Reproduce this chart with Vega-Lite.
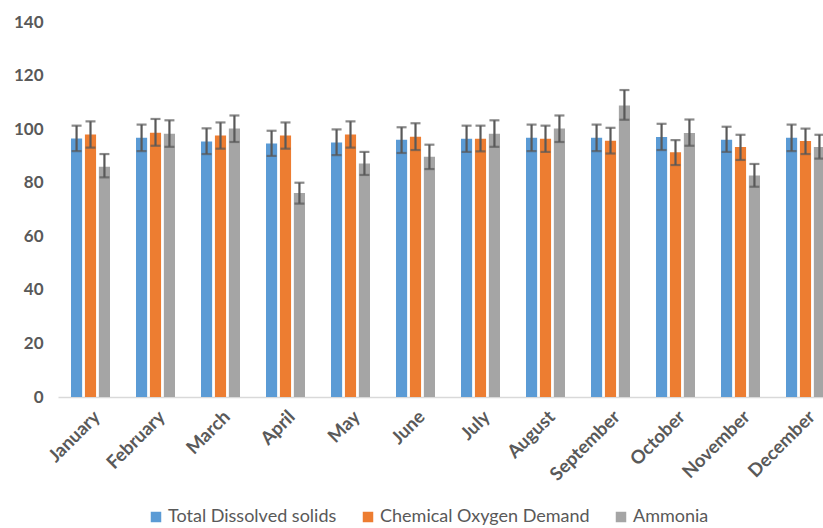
{
  "$schema": "https://vega.github.io/schema/vega-lite/v6.json",
  "width": 765,
  "height": 375,
  "autosize": {"type": "none"},
  "padding": {"left": 58, "top": 22, "right": 0, "bottom": 131},
  "background": "white",
  "config": {
    "view": {"stroke": null},
    "font": "Lato",
    "axis": {"labelFont": "Lato", "labelFontWeight": "bold", "labelColor": "#595959", "grid": false, "ticks": false, "title": null}
  },
  "data": {
    "values": [
      {"month": "January", "series": "Total Dissolved solids", "value": 96.5, "lo": 91.8, "hi": 101.3},
      {"month": "January", "series": "Chemical Oxygen Demand", "value": 98, "lo": 93.1, "hi": 102.9},
      {"month": "January", "series": "Ammonia", "value": 86, "lo": 82, "hi": 90.7},
      {"month": "February", "series": "Total Dissolved solids", "value": 96.8, "lo": 91.8, "hi": 101.7},
      {"month": "February", "series": "Chemical Oxygen Demand", "value": 98.7, "lo": 93.8, "hi": 103.8},
      {"month": "February", "series": "Ammonia", "value": 98.3, "lo": 93.4, "hi": 103.3},
      {"month": "March", "series": "Total Dissolved solids", "value": 95.4, "lo": 90.7, "hi": 100.3},
      {"month": "March", "series": "Chemical Oxygen Demand", "value": 97.6, "lo": 92.7, "hi": 102.5},
      {"month": "March", "series": "Ammonia", "value": 100.2, "lo": 95.2, "hi": 105.1},
      {"month": "April", "series": "Total Dissolved solids", "value": 94.6, "lo": 90, "hi": 99.4},
      {"month": "April", "series": "Chemical Oxygen Demand", "value": 97.6, "lo": 92.7, "hi": 102.5},
      {"month": "April", "series": "Ammonia", "value": 76.2, "lo": 72.2, "hi": 80},
      {"month": "May", "series": "Total Dissolved solids", "value": 95, "lo": 90.3, "hi": 99.9},
      {"month": "May", "series": "Chemical Oxygen Demand", "value": 98, "lo": 93.1, "hi": 102.9},
      {"month": "May", "series": "Ammonia", "value": 87.2, "lo": 82.9, "hi": 91.5},
      {"month": "June", "series": "Total Dissolved solids", "value": 96, "lo": 91.1, "hi": 100.7},
      {"month": "June", "series": "Chemical Oxygen Demand", "value": 97.2, "lo": 92.2, "hi": 102.2},
      {"month": "June", "series": "Ammonia", "value": 89.7, "lo": 85.1, "hi": 94.2},
      {"month": "July", "series": "Total Dissolved solids", "value": 96.4, "lo": 91.5, "hi": 101.3},
      {"month": "July", "series": "Chemical Oxygen Demand", "value": 96.4, "lo": 91.7, "hi": 101.3},
      {"month": "July", "series": "Ammonia", "value": 98.3, "lo": 93.4, "hi": 103.3},
      {"month": "August", "series": "Total Dissolved solids", "value": 96.8, "lo": 91.8, "hi": 101.7},
      {"month": "August", "series": "Chemical Oxygen Demand", "value": 96.4, "lo": 91.5, "hi": 101.3},
      {"month": "August", "series": "Ammonia", "value": 100.2, "lo": 95.2, "hi": 105.1},
      {"month": "September", "series": "Total Dissolved solids", "value": 96.8, "lo": 91.8, "hi": 101.7},
      {"month": "September", "series": "Chemical Oxygen Demand", "value": 95.7, "lo": 90.9, "hi": 100.5},
      {"month": "September", "series": "Ammonia", "value": 108.8, "lo": 103.5, "hi": 114.6},
      {"month": "October", "series": "Total Dissolved solids", "value": 97.1, "lo": 92.2, "hi": 102},
      {"month": "October", "series": "Chemical Oxygen Demand", "value": 91.4, "lo": 86.6, "hi": 95.9},
      {"month": "October", "series": "Ammonia", "value": 98.6, "lo": 93.8, "hi": 103.6},
      {"month": "November", "series": "Total Dissolved solids", "value": 96, "lo": 91.5, "hi": 100.9},
      {"month": "November", "series": "Chemical Oxygen Demand", "value": 93.3, "lo": 88.5, "hi": 97.9},
      {"month": "November", "series": "Ammonia", "value": 82.7, "lo": 78.5, "hi": 87},
      {"month": "December", "series": "Total Dissolved solids", "value": 96.8, "lo": 91.8, "hi": 101.7},
      {"month": "December", "series": "Chemical Oxygen Demand", "value": 95.6, "lo": 90.7, "hi": 100.2},
      {"month": "December", "series": "Ammonia", "value": 93.3, "lo": 89, "hi": 97.9}
    ]
  },
  "encoding": {
    "x": {
      "field": "month", "type": "nominal", "sort": null,
      "scale": {"range": [0, 780], "paddingInner": 0.4, "paddingOuter": 0.2},
      "axis": {"labelAngle": -45, "labelFontSize": 18.5, "labelPadding": 10, "domainColor": "#D9D9D9", "domainWidth": 1.5}
    },
    "xOffset": {
      "field": "series", "type": "nominal",
      "sort": ["Total Dissolved solids", "Chemical Oxygen Demand", "Ammonia"],
      "scale": {"paddingInner": 0.2}
    }
  },
  "layer": [
    {
      "mark": {"type": "bar", "clip": true},
      "encoding": {
        "y": {
          "field": "value", "type": "quantitative",
          "scale": {"domain": [0, 140], "nice": false},
          "axis": {"values": [0, 20, 40, 60, 80, 100, 120, 140], "domain": false, "labelFontSize": 17, "labelPadding": 15}
        },
        "color": {
          "field": "series", "type": "nominal",
          "sort": ["Total Dissolved solids", "Chemical Oxygen Demand", "Ammonia"],
          "scale": {"domain": ["Total Dissolved solids", "Chemical Oxygen Demand", "Ammonia"], "range": ["#5B9BD5", "#ED7D31", "#A5A5A5"]},
          "legend": {
            "title": null, "orient": "none", "direction": "horizontal",
            "legendX": 89, "legendY": 486,
            "symbolType": "square", "symbolSize": 110, "symbolStrokeWidth": 0,
            "labelFont": "Lato", "labelFontSize": 18, "labelFontWeight": "normal", "labelColor": "#595959",
            "labelLimit": 0, "columnPadding": 22, "labelOffset": 3
          }
        }
      }
    },
    {
      "mark": {"type": "rule", "color": "#595959", "strokeWidth": 2.2, "clip": true},
      "encoding": {
        "y": {"field": "lo", "type": "quantitative"},
        "y2": {"field": "hi"}
      }
    },
    {
      "mark": {"type": "tick", "color": "#595959", "thickness": 2.2, "size": 10, "clip": true},
      "encoding": {"y": {"field": "lo", "type": "quantitative"}}
    },
    {
      "mark": {"type": "tick", "color": "#595959", "thickness": 2.2, "size": 10, "clip": true},
      "encoding": {"y": {"field": "hi", "type": "quantitative"}}
    }
  ]
}
